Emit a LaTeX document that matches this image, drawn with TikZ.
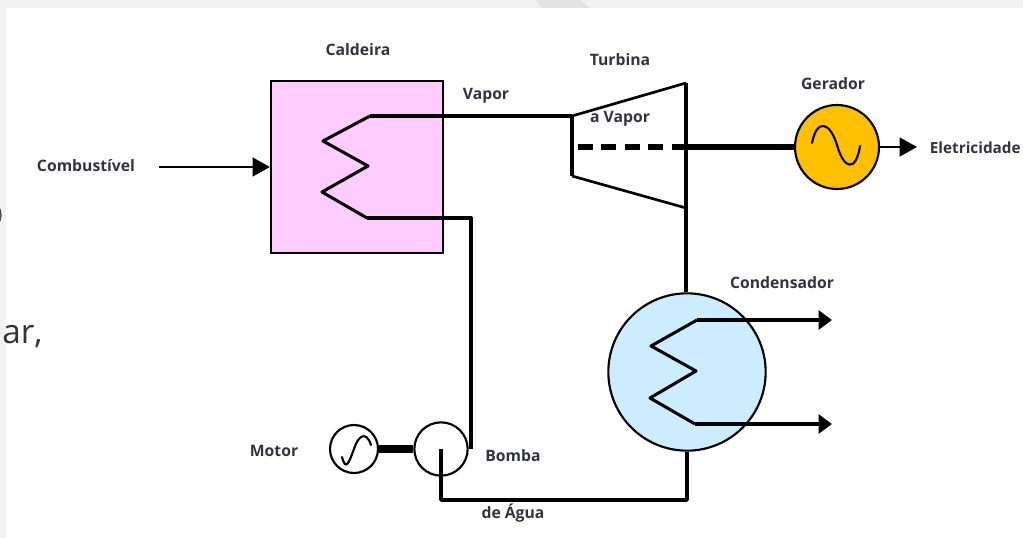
\documentclass[tikz,border=0pt]{standalone}
\usepackage{fontspec}
\setmainfont{Open Sans}
\usepackage{xcolor}
\usepackage{tikz}
\usetikzlibrary{arrows.meta,positioning,calc}
\definecolor{boilerpink}{HTML}{FFCCFF}
\definecolor{condblue}{HTML}{CCECFF}
\definecolor{genyellow}{HTML}{FFC000}
\definecolor{labelgray}{HTML}{33333F}
\definecolor{edgegray}{HTML}{F2F2F2}
\definecolor{bandgray}{HTML}{E3E3E3}

\begin{document}
\begin{tikzpicture}[
    x=0.75pt, y=-0.75pt,
    node distance=0.6cm and 0.8cm,
    lbl/.style={font=\fontsize{11.8pt}{13pt}\selectfont\bfseries, text=labelgray, inner sep=0pt},
    unit/.style={draw, circle, inner sep=0pt, line width=1.6pt},
    pipe/.style={line width=3pt, line join=round},
    coil/.style={line width=2.3pt, line join=round},
    arr/.style={-{Triangle[length=13pt, width=14pt]}, line width=1.8pt},
    arrshort/.style={-{Triangle[length=10pt, width=14pt]}, line width=2.5pt},
    wave/.style={line width=1.6pt, line cap=round}
]
\useasboundingbox (0,0) rectangle (1023,538);
% page around the figure
\fill[edgegray] (0,0) rectangle (1023,8);
\fill[edgegray] (0,0) rectangle (6,538);
\fill[bandgray] (536,0) -- (580,0) -- (590,8) -- (542,8) -- cycle;
\draw[line width=1pt, black!70] (0,209) -- (1,215) -- (0,221);
\node[font=\fontsize{25pt}{28pt}\selectfont, text=black!80, anchor=west, inner sep=0pt] (frag) at (2,337) {ar,};

% equipment
\node[draw, line width=1.6pt, fill=boilerpink, minimum width=129pt, minimum height=129pt, inner sep=0pt] (boiler) at (357,167) {};
\node[unit, fill=genyellow, minimum size=63pt] (gen) at (837,147) {};
\node[unit, fill=condblue, minimum size=118pt] (cond) at (687,372) {};
\node[unit, fill=white, minimum size=36pt] (motor) at (354,449) {};
\node[unit, fill=white, minimum size=40pt] (pump) at (441,449) {};

\coordinate (tin) at (572,116);
\coordinate (tlow) at (572,176);
\coordinate (ttop) at (686,83);
\coordinate (tbot) at (686,208);
\coordinate (tshaft) at (686,147);
\coordinate (fuel) at (159,167);

% turbine body
\draw[pipe] (tlow) -- (tin);
\draw[line width=2pt] (tin) -- (ttop);
\draw[line width=2pt] (tlow) -- (tbot);
\draw[pipe] (ttop) -- (cond.north -| ttop);

% boiler coil
\draw[coil] (370,116) -- (323,141) -- (368,166) -- (322,192) -- (367,218);
\draw[pipe] (370,116) -- (tin);
\draw[pipe] (367,218) -- (471,218) -- (471,449);

% condenser coil
\draw[coil] (697,320) -- (651,346) -- (696,371) -- (650,398) -- (695,424);
\draw[arrshort] (697,320) -- (832,320);
\draw[arrshort] (695,424) -- (832,424);

% shaft and water return
\draw[line width=5pt, dash pattern=on 11pt off 6.6pt] (578,147) -- (tshaft);
\draw[line width=4.5pt] (tshaft) -- (gen.west);
\draw[line width=5.5pt] (motor.east) -- (pump.west);
\draw[line width=2.6pt, line join=round] (pump.center) -- (441,500) -- (687,500) -- (cond.south);
\draw[arr] (gen.east) -- (917,147);
\draw[arr] (fuel) -- (boiler.west);

% sine marks
\draw[wave] (812,143) .. controls (817,118) and (830,122) .. (837,145) .. controls (844,170) and (856,172) .. (860,146);
\draw[wave] (342,457) .. controls (346,472) and (349,462) .. (354,449) .. controls (358,436) and (366,430) .. (371,445);

% labels
\node[lbl] (caldeira) at (358,50) {Caldeira};
\node[lbl] (vapor) at (486,96) {Vapor};
\node[lbl] (turbina) at (620,60) {Turbina};
\node[lbl] (avapor) at (620,119) {a Vapor};
\node[lbl] (gerador) at (833,84) {Gerador};
\node[lbl, anchor=east, font=\fontsize{11.5pt}{13pt}\selectfont\bfseries] (eletric) at (1021,148) {Eletricidade};
\node[lbl] (fuelname) at (86,166) {Combustível};
\node[lbl] (condname) at (782,283) {Condensador};
\node[lbl] (motorname) at (274,451) {Motor};
\node[lbl] (bomba) at (513,456) {Bomba};
\node[lbl] (deagua) at (513,513) {de Água};
\end{tikzpicture}
\end{document}
